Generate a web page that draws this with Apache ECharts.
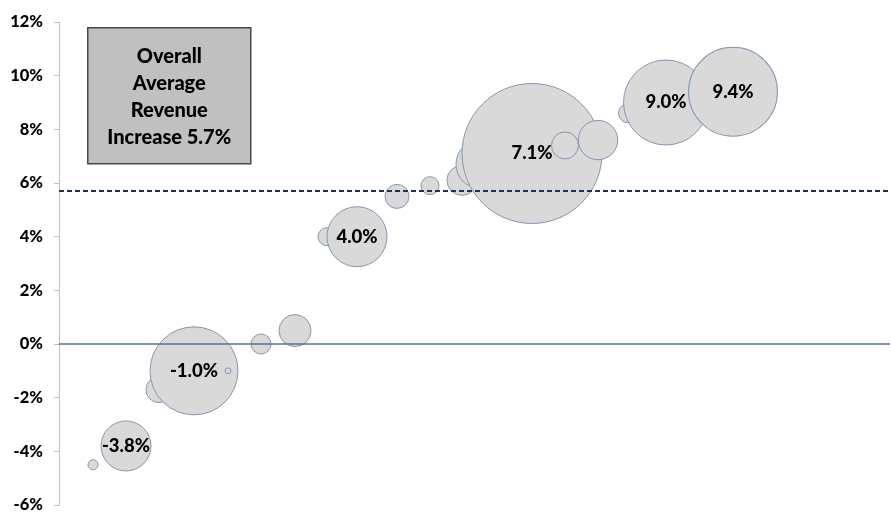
<!DOCTYPE html>
<html><head><meta charset="utf-8">
<script src="https://cdn.jsdelivr.net/npm/echarts@6/dist/echarts.min.js"></script>
<style>html,body{margin:0;padding:0;background:#fff}#c{width:891px;height:514px}</style>
</head><body><div id="c"></div>
<script>
// position along hidden x axis (reading order), revenue increase %, bubble weight, label
const xPos    = [34, 67, 100, 135, 169, 202, 236, 268, 298, 338, 371, 403, 421, 473, 506, 539, 569, 607, 674];
const growth  = [-4.5, -3.8, -1.7, -1.0, -1.0, 0.0, 0.5, 4.0, 4.0, 5.5, 5.9, 6.1, 6.7, 7.1, 7.4, 7.6, 8.6, 9.0, 9.4];
const weight  = [25, 625, 170, 1936, 9, 100, 256, 81, 900, 144, 81, 225, 576, 4900, 182, 388, 90, 1806, 1980];
const labels  = [null, '-3.8%', null, '-1.0%', null, null, null, null, '4.0%', null, null, null, null, '7.1%', null, null, null, '9.0%', '9.4%'];
const yTicks  = { min: -6, max: 12, step: 2 };
const averageIncrease = 5.7;
const boxLines = ['Overall', 'Average', 'Revenue', 'Increase 5.7%'];

const data = xPos.map((x, i) => ({
  value: [x, growth[i], weight[i]],
  label: labels[i] ? { show: true, formatter: labels[i] } : { show: false }
}));

const chart = echarts.init(document.getElementById('c'));
chart.setOption({
  animation: false,
  grid: { left: 59, right: 1, top: 22, bottom: 9 },
  xAxis: { type: 'value', min: 0, max: 831, show: false },
  yAxis: {
    type: 'value', min: yTicks.min, max: yTicks.max, interval: yTicks.step,
    axisLine: { show: true, lineStyle: { color: '#bfbfbf', width: 1 } },
    axisTick: { show: true, length: 5, lineStyle: { color: '#bfbfbf' } },
    splitLine: { show: false },
    axisLabel: { formatter: '{value}%', color: '#000', fontWeight: 900, fontSize: 16.5, fontFamily: 'Lato', margin: 16 }
  },
  series: [{
    type: 'scatter',
    data: data,
    symbolSize: v => 2 * Math.sqrt(v[2]),
    itemStyle: { color: '#d9d9d9', borderColor: '#8497b0', borderWidth: 1, opacity: 1 },
    label: { position: 'inside', color: '#000', fontWeight: 900, fontSize: 18.5, fontFamily: 'Lato' },
    markLine: {
      silent: true, symbol: 'none', label: { show: false },
      data: [
        { yAxis: 0, lineStyle: { color: '#5b7090', width: 1.5, type: 'solid' } },
        { yAxis: averageIncrease, lineStyle: { color: '#1f3050', width: 2, type: [5, 3] } }
      ]
    },
    z: 3
  }],
  graphic: [{
    type: 'group', left: 87, top: 27,
    children: [
      { type: 'rect', shape: { x: 0, y: 0, width: 163, height: 136 },
        style: { fill: '#c0c0c0', stroke: '#404a55', lineWidth: 1.5 } },
      { type: 'text', x: 81.5, y: 69,
        style: { text: boxLines.join('\n'), fill: '#000', font: '900 20px Lato',
                 align: 'center', verticalAlign: 'middle', lineHeight: 27 } }
    ]
  }]
});
</script></body></html>
